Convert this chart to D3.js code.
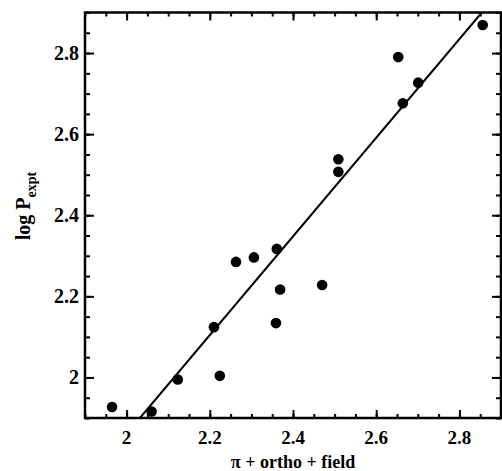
<!DOCTYPE html>
<html><head><meta charset="utf-8">
<script src="https://cdn.jsdelivr.net/npm/d3@7"></script>
<style>body{margin:0;background:#fff}svg{display:block}text{font-family:"Liberation Serif","Times New Roman",serif;font-weight:bold;fill:#000}</style>
</head><body><svg id="c" width="502" height="471"></svg>
<script>
const xVals = [1.965, 2.060, 2.123, 2.224, 2.210, 2.359, 2.369, 2.263, 2.306, 2.361, 2.470, 2.509, 2.509, 2.653, 2.701, 2.664, 2.856];
const yVals = [1.927, 1.916, 1.995, 2.004, 2.124, 2.134, 2.217, 2.285, 2.296, 2.317, 2.228, 2.538, 2.507, 2.790, 2.727, 2.676, 2.869];
const fitSlope = 1.217;
const fitIntercept = -0.573;
const xTicks = [2, 2.2, 2.4, 2.6, 2.8];
const yTicks = [2, 2.2, 2.4, 2.6, 2.8];
const xDomain = [1.9, 2.9];
const yDomain = [1.9, 2.9];

const svg = d3.select("#c");
const L = 85, R = 501, T = 12.5, B = 418;
const x = d3.scaleLinear().domain(xDomain).range([L, R]);
const y = d3.scaleLinear().domain(yDomain).range([B, T]);

const fmt = d => (d === 2 ? "2" : d3.format(".1f")(d));
const minorX = d3.range(1.9, 2.9001, 0.05).map(v => +v.toFixed(2));
const minorY = d3.range(1.9, 2.9001, 0.05).map(v => +v.toFixed(2));

const ax = (g, axis) => { g.call(axis); g.select(".domain").remove(); g.selectAll("line").attr("stroke", "#000").attr("stroke-width", 2); };
svg.append("g").attr("transform", `translate(0,${B})`).call(g => ax(g, d3.axisBottom(x).tickValues(minorX).tickSize(-4).tickFormat("")));
svg.append("g").attr("transform", `translate(0,${B})`).call(g => ax(g, d3.axisBottom(x).tickValues(xTicks).tickSize(-8).tickFormat("")));
svg.append("g").attr("transform", `translate(0,${T})`).call(g => ax(g, d3.axisTop(x).tickValues(minorX).tickSize(-4).tickFormat("")));
svg.append("g").attr("transform", `translate(0,${T})`).call(g => ax(g, d3.axisTop(x).tickValues(xTicks).tickSize(-8).tickFormat("")));
svg.append("g").attr("transform", `translate(${L},0)`).call(g => ax(g, d3.axisLeft(y).tickValues(minorY).tickSize(-5).tickFormat("")));
svg.append("g").attr("transform", `translate(${L},0)`).call(g => ax(g, d3.axisLeft(y).tickValues(yTicks).tickSize(-9).tickFormat("")));
svg.append("g").attr("transform", `translate(${R},0)`).call(g => ax(g, d3.axisRight(y).tickValues(minorY).tickSize(-5).tickFormat("")));
svg.append("g").attr("transform", `translate(${R},0)`).call(g => ax(g, d3.axisRight(y).tickValues(yTicks).tickSize(-9).tickFormat("")));

svg.append("rect").attr("x", L).attr("y", T).attr("width", R - L).attr("height", B - T)
  .attr("fill", "none").attr("stroke", "#000").attr("stroke-width", 2.5);

svg.append("g").selectAll("text").data(xTicks).join("text")
  .attr("x", d => x(d)).attr("y", 444).attr("text-anchor", "middle")
  .style("font-size", "19px").text(fmt);
svg.append("g").selectAll("text").data(yTicks).join("text")
  .attr("x", 79).attr("y", d => y(d) + 7).attr("text-anchor", "end")
  .style("font-size", "20px").text(fmt);

svg.append("clipPath").attr("id", "clip").append("rect").attr("x", L).attr("y", T).attr("width", R - L).attr("height", B - T);
const x0 = (yDomain[0] - fitIntercept) / fitSlope, x1 = (yDomain[1] - fitIntercept) / fitSlope;
svg.append("line").attr("clip-path", "url(#clip)")
  .attr("x1", x(x0)).attr("y1", y(fitSlope * x0 + fitIntercept))
  .attr("x2", x(x1)).attr("y2", y(fitSlope * x1 + fitIntercept))
  .attr("stroke", "#000").attr("stroke-width", 2);

svg.append("g").selectAll("circle").data(xVals.map((v, i) => [v, yVals[i]])).join("circle")
  .attr("cx", d => x(d[0])).attr("cy", d => y(d[1])).attr("r", 5.3).attr("fill", "#000");

svg.append("text").attr("x", 293).attr("y", 468).attr("text-anchor", "middle")
  .style("font-size", "18px").text("π + ortho + field");
const yt = svg.append("text").attr("transform", "translate(30,206) rotate(-90)").attr("text-anchor", "middle")
  .style("font-size", "20px");
yt.append("tspan").text("log P");
yt.append("tspan").attr("dy", 6).style("font-size", "14px").text("expt");
</script></body></html>
